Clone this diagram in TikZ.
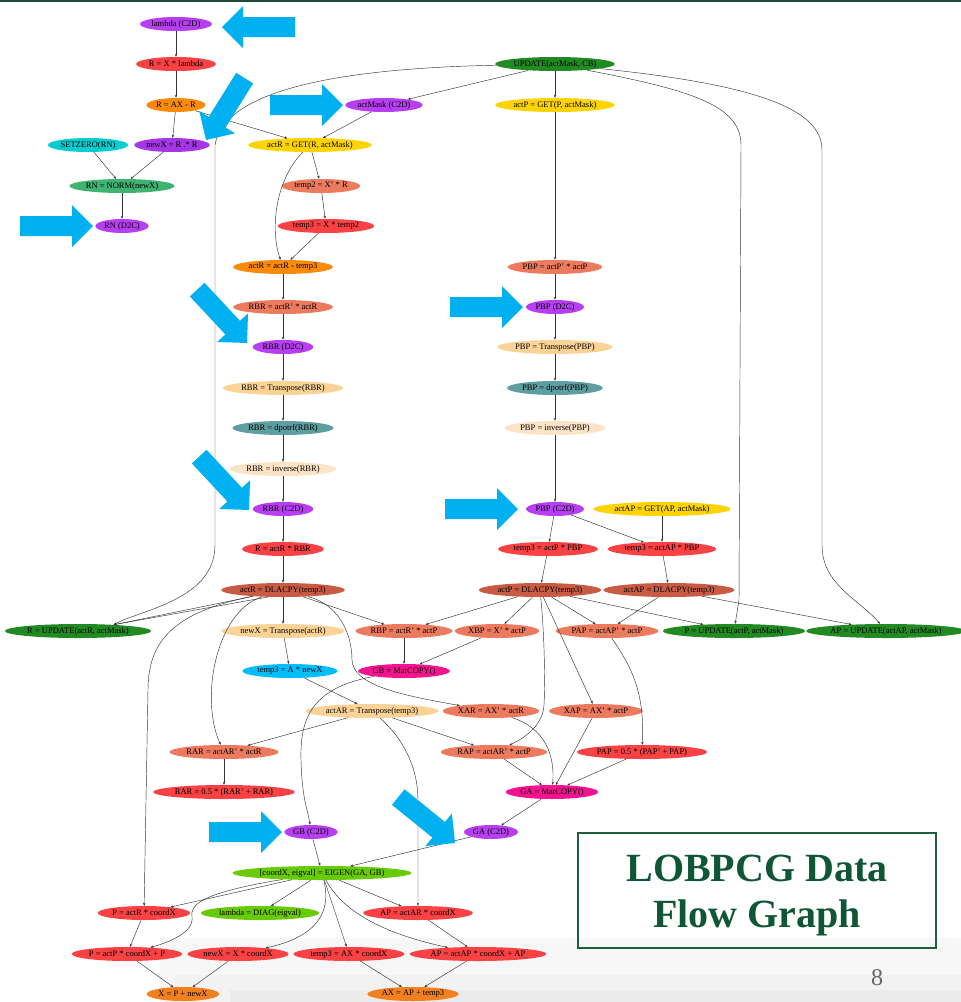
\documentclass[tikz,border=0pt]{standalone}
\usepackage{fontspec}
\setmainfont{Liberation Serif}
\usetikzlibrary{shapes.geometric, arrows.meta, calc}

\definecolor{xferc}{HTML}{B83EF2}
\definecolor{xferd}{HTML}{A536E6}
\definecolor{mulc}{HTML}{FA4143}
\definecolor{subc}{HTML}{FB8A0A}
\definecolor{addc}{HTML}{F2801F}
\definecolor{updc}{HTML}{218A22}
\definecolor{getc}{HTML}{FDD400}
\definecolor{zeroc}{HTML}{08CDD0}
\definecolor{normc}{HTML}{3EB372}
\definecolor{innerc}{HTML}{EC7A5E}
\definecolor{transc}{HTML}{FCD397}
\definecolor{potrfc}{HTML}{5F9EA0}
\definecolor{invc}{HTML}{FDE3C6}
\definecolor{copyc}{HTML}{C95B45}
\definecolor{skyc}{HTML}{00BDFB}
\definecolor{matc}{HTML}{F5148F}
\definecolor{eigc}{HTML}{68CB05}
\definecolor{calloutc}{HTML}{00B0F0}
\definecolor{titlec}{HTML}{0F5638}
\definecolor{framec}{HTML}{1C5E40}
\definecolor{barc}{HTML}{1C4A3E}

\tikzset{
	op/.style={ellipse, inner xsep=1pt, inner ysep=0pt, minimum height=14pt, font=\fontsize{8.5}{10}\selectfont, text=black},
	xferop/.style={op, fill=xferc},
	mulop/.style={op, fill=mulc},
	subop/.style={op, fill=subc},
	addop/.style={op, fill=addc},
	updop/.style={op, fill=updc},
	getop/.style={op, fill=getc},
	innerop/.style={op, fill=innerc},
	transop/.style={op, fill=transc},
	potrfop/.style={op, fill=potrfc},
	invop/.style={op, fill=invc},
	copyop/.style={op, fill=copyc},
	matop/.style={op, fill=matc},
	eigop/.style={op, fill=eigc},
	edge/.style={draw=black!80, line width=0.45pt, -{Stealth[length=3pt,width=2.4pt]}},
	callout/.style={fill=calloutc},
}
% big slide arrow, tip at #1, pointing at angle #2
\newcommand{\bigarrow}[2]{\fill[callout, shift={#1}, rotate=#2] (0,0) -- (-21,21) -- (-21,10) -- (-73,10) -- (-73,-10) -- (-21,-10) -- (-21,-21) -- cycle;}

\begin{document}
\begin{tikzpicture}[x=1pt, y=-1pt]
		\useasboundingbox (0,0) rectangle (961,1002);
		
		%slide background
		\fill[barc] (0,0) rectangle (961,2);
		\fill[black!3] (160,938) rectangle (961,1002);
		\fill[black!5] (175,975) rectangle (961,1002);
		\fill[black!8] (230,990) rectangle (961,1002);
		
		%nodes left
		\node[xferop] (lamC2D) at (176,24) {lambda (C2D)};
		\node[mulop] (RXlam) at (176,64) {R = X * lambda};
		\node[subop] (RAXR) at (176,105) {R = AX - R};
		\node[op, fill=zeroc] (setzero) at (88,145) {SETZERO(RN)};
		\node[op, fill=xferd] (newXRR) at (172,145) {newX = R .* R};
		\node[op, fill=normc] (RNnorm) at (122,186) {RN = NORM(newX)};
		\node[xferop] (RND2C) at (122,226) {RN (D2C)};
		
		%nodes R column
		\node[xferop] (actMask) at (384,105) {actMask (C2D)};
		\node[getop] (actRget) at (310,145) {actR = GET(R, actMask)};
		\node[innerop] (temp2) at (321,186) {temp2 = X' * R};
		\node[mulop] (temp3a) at (326,226) {temp3 = X * temp2};
		\node[subop] (actRsub) at (283,267) {actR = actR - temp3};
		\node[innerop] (RBR1) at (283,307) {RBR = actR' * actR};
		\node[xferop] (RBRd2c) at (283,347) {RBR (D2C)};
		\node[transop] (RBRtr) at (283,388) {RBR = Transpose(RBR)};
		\node[potrfop] (RBRpo) at (283,428) {RBR = dpotrf(RBR)};
		\node[invop] (RBRinv) at (283,469) {RBR = inverse(RBR)};
		\node[xferop] (RBRc2d) at (283,509) {RBR (C2D)};
		\node[mulop] (RactR) at (283,549) {R = actR * RBR};
		\node[copyop] (actRcpy) at (283,590) {actR = DLACPY(temp3)};
		
		%nodes P column
		\node[updop] (upd) at (555,64) {UPDATE(actMask, CB)};
		\node[getop] (actPget) at (555,105) {actP = GET(P, actMask)};
		\node[innerop] (PBP1) at (555,267) {PBP = actP' * actP};
		\node[xferop] (PBPd2c) at (555,307) {PBP (D2C)};
		\node[transop] (PBPtr) at (555,347) {PBP = Transpose(PBP)};
		\node[potrfop] (PBPpo) at (555,388) {PBP = dpotrf(PBP)};
		\node[invop] (PBPinv) at (555,428) {PBP = inverse(PBP)};
		\node[xferop] (PBPc2d) at (555,509) {PBP (C2D)};
		\node[getop] (actAPget) at (662,509) {actAP = GET(AP, actMask)};
		\node[mulop] (temp3P) at (548,549) {temp3 = actP * PBP};
		\node[mulop] (temp3AP) at (662,549) {temp3 = actAP * PBP};
		\node[copyop] (actPcpy) at (540,590) {actP = DLACPY(temp3)};
		\node[copyop] (actAPcpy) at (669,590) {actAP = DLACPY(temp3)};
		
		%nodes middle
		\node[updop] (Rupd) at (78,631) {R = UPDATE(actR, actMask)};
		\node[transop] (newXtr) at (283,631) {newX = Transpose(actR)};
		\node[innerop] (RBP) at (404,631) {RBP = actR' * actP};
		\node[innerop] (XBP) at (497,631) {XBP = X' * actP};
		\node[innerop] (PAP1) at (607,631) {PAP = actAP' * actP};
		\node[updop] (Pupd) at (734,631) {P = UPDATE(actP, actMask)};
		\node[updop] (APupd) at (886,631) {AP = UPDATE(actAP, actMask)};
		\node[op, fill=skyc] (temp3A) at (290,671) {temp3 = A * newX};
		\node[matop] (GBcopy) at (404,671) {GB = MatCOPY()};
		\node[transop] (actARtr) at (372,711) {actAR = Transpose(temp3)};
		\node[innerop] (XAR) at (491,711) {XAR = AX' * actR};
		\node[innerop] (XAP) at (596,711) {XAP = AX' * actP};
		\node[innerop] (RAR1) at (224,752) {RAR = actAR' * actR};
		\node[innerop] (RAP) at (494,752) {RAP = actAR' * actP};
		\node[mulop] (PAP2) at (642,752) {PAP = 0.5 * (PAP' + PAP)};
		\node[mulop] (RAR2) at (224,792) {RAR = 0.5 * (RAR' + RAR)};
		\node[matop] (GAcopy) at (552,792) {GA = MatCOPY()};
		
		%nodes bottom
		\node[xferop] (GBc2d) at (311,832) {GB (C2D)};
		\node[xferop] (GAc2d) at (491,832) {GA (C2D)};
		\node[eigop] (eigen) at (322,873) {[coordX, eigval] = EIGEN(GA, GB)};
		\node[mulop] (PactR) at (144,913) {P = actR * coordX};
		\node[eigop] (lamdiag) at (260,913) {lambda = DIAG(eigval)};
		\node[mulop] (APactAR) at (418,913) {AP = actAR * coordX};
		\node[mulop] (PactP) at (127,954) {P = actP * coordX + P};
		\node[mulop] (newXX) at (238,954) {newX = X * coordX};
		\node[mulop] (temp3AX) at (349,954) {temp3 = AX * coordX};
		\node[mulop] (APactAP) at (478,954) {AP = actAP * coordX + AP};
		\node[addop] (Xsum) at (183,994) {X = P + newX};
		\node[addop] (AXsum) at (413,994) {AX = AP + temp3};
		
		%edges top
		\draw[edge] (lamC2D) -- (RXlam);
		\draw[edge] (RXlam) -- (RAXR);
		\draw[edge] (RAXR) -- (newXRR);
		\draw[edge] (RAXR) -- (actRget);
		\draw[edge] (setzero) -- (RNnorm);
		\draw[edge] (newXRR) -- (RNnorm);
		\draw[edge] (RNnorm) -- (RND2C);
		\draw[edge] (upd) -- (actMask);
		\draw[edge] (actMask) -- (actRget);
		\draw[edge] (actRget) -- (temp2);
		\draw[edge] (temp2) -- (temp3a);
		\draw[edge] (temp3a) -- (actRsub);
		\draw[edge] (actRget) .. controls (275,180) and (270,230) .. (actRsub);
		\draw[edge] (upd) .. controls (360,68) and (225,85) .. (215,145) -- (215,545) .. controls (215,600) and (140,610) .. (Rupd.10);
		\draw[edge] (upd) .. controls (690,90) and (741,105) .. (741,145) -- (739,600) -- (Pupd);
		\draw[edge] (upd) .. controls (760,85) and (822,110) .. (822,150) -- (822,545) .. controls (822,585) and (860,600) .. (APupd);
		
		%edges R column
		\draw[edge] (actRsub) -- (RBR1);
		\draw[edge] (RBR1) -- (RBRd2c);
		\draw[edge] (RBRd2c) -- (RBRtr);
		\draw[edge] (RBRtr) -- (RBRpo);
		\draw[edge] (RBRpo) -- (RBRinv);
		\draw[edge] (RBRinv) -- (RBRc2d);
		\draw[edge] (RBRc2d) -- (RactR);
		\draw[edge] (RactR) -- (actRcpy);
		
		%edges P column
		\draw[edge] (upd) -- (actPget);
		\draw[edge] (actPget) -- (PBP1);
		\draw[edge] (PBP1) -- (PBPd2c);
		\draw[edge] (PBPd2c) -- (PBPtr);
		\draw[edge] (PBPtr) -- (PBPpo);
		\draw[edge] (PBPpo) -- (PBPinv);
		\draw[edge] (PBPinv) -- (PBPc2d);
		\draw[edge] (PBPc2d) -- (temp3P);
		\draw[edge] (PBPc2d) -- (temp3AP);
		\draw[edge] (actAPget) -- (temp3AP);
		\draw[edge] (temp3P) -- (actPcpy);
		\draw[edge] (temp3AP) -- (actAPcpy);
		
		%edges from the copies
		\draw[edge] (actRcpy.192) -- (Rupd.10);
		\draw[edge] (actRcpy.205) -- (Rupd.10);
		\draw[edge] (actRcpy) -- (newXtr);
		\draw[edge] (actRcpy) -- (RBP);
		\draw[edge] (actRcpy) .. controls (175,612) and (148,640) .. (148,690) -- (PactR);
		\draw[edge] (actRcpy) .. controls (215,612) and (200,700) .. (RAR1);
		\draw[edge] (actRcpy) .. controls (340,605) and (352,635) .. (352,660) .. controls (353,685) and (400,695) .. (XAR);
		\draw[edge] (actPcpy) -- (RBP);
		\draw[edge] (actPcpy) -- (XBP);
		\draw[edge] (actPcpy) -- (PAP1);
		\draw[edge] (actPcpy) -- (Pupd);
		\draw[edge] (actPcpy) -- (XAP);
		\draw[edge] (actPcpy) .. controls (545,640) and (545,690) .. (544,705) .. controls (543,725) and (525,738) .. (RAP);
		\draw[edge] (actAPcpy) -- (PAP1);
		\draw[edge] (actAPcpy) -- (APupd);
		\draw[edge] (PAP1) .. controls (630,665) and (645,690) .. (PAP2);
		
		%edges middle
		\draw[edge] (newXtr) -- (temp3A);
		\draw[edge] (temp3A) -- (actARtr);
		\draw[edge] (RBP) -- (GBcopy);
		\draw[edge] (XBP) -- (GBcopy);
		\draw[edge] (GBcopy) .. controls (310,688) and (300,720) .. (301,760) .. controls (302,800) and (308,810) .. (GBc2d);
		\draw[edge] (actARtr) -- (RAR1);
		\draw[edge] (actARtr) -- (RAP);
		\draw[edge] (actARtr) .. controls (405,740) and (418,770) .. (418,800) -- (APactAR);
		\draw[edge] (RAR1) -- (RAR2);
		\draw[edge] (XAR) .. controls (545,728) and (555,755) .. (GAcopy);
		\draw[edge] (RAP) -- (GAcopy);
		\draw[edge] (XAP) -- (GAcopy);
		\draw[edge] (PAP2) -- (GAcopy);
		\draw[edge] (GAcopy) -- (GAc2d);
		\draw[edge] (GAc2d) -- (eigen);
		\draw[edge] (GBc2d) -- (eigen);
		
		%edges bottom
		\draw[edge] (eigen) -- (PactR);
		\draw[edge] (eigen) .. controls (200,893) and (190,905) .. (192,917) .. controls (194,932) and (170,942) .. (PactP);
		\draw[edge] (eigen) -- (lamdiag);
		\draw[edge] (eigen) .. controls (330,905) and (325,935) .. (newXX);
		\draw[edge] (eigen) -- (temp3AX);
		\draw[edge] (eigen) -- (APactAR);
		\draw[edge] (eigen) .. controls (345,915) and (390,935) .. (APactAP);
		\draw[edge] (PactR) -- (PactP);
		\draw[edge] (APactAR) -- (APactAP);
		\draw[edge] (PactP) -- (Xsum);
		\draw[edge] (newXX) -- (Xsum);
		\draw[edge] (temp3AX) -- (AXsum);
		\draw[edge] (APactAP) -- (AXsum);
		
		%slide arrows
		\bigarrow{(222,27)}{180}
		\bigarrow{(206,140)}{238}
		\bigarrow{(343,105)}{0}
		\bigarrow{(93,226)}{0}
		\bigarrow{(247,343)}{-47}
		\bigarrow{(249,510)}{-47}
		\bigarrow{(523,307)}{0}
		\bigarrow{(518,509)}{0}
		\bigarrow{(282,832)}{0}
		\bigarrow{(455,843)}{-39}
		
		%title
		\draw[framec, line width=1.6pt] (578,833) rectangle (936,948);
		\node[text=titlec, align=center, font=\fontsize{40}{46}\selectfont\bfseries] (title) at (757,896) {LOBPCG Data\\Flow Graph};
		\node[text=black!60, font=\fontsize{24}{26}\selectfont] (pagenum) at (877,978) {8};
\end{tikzpicture}
\end{document}
